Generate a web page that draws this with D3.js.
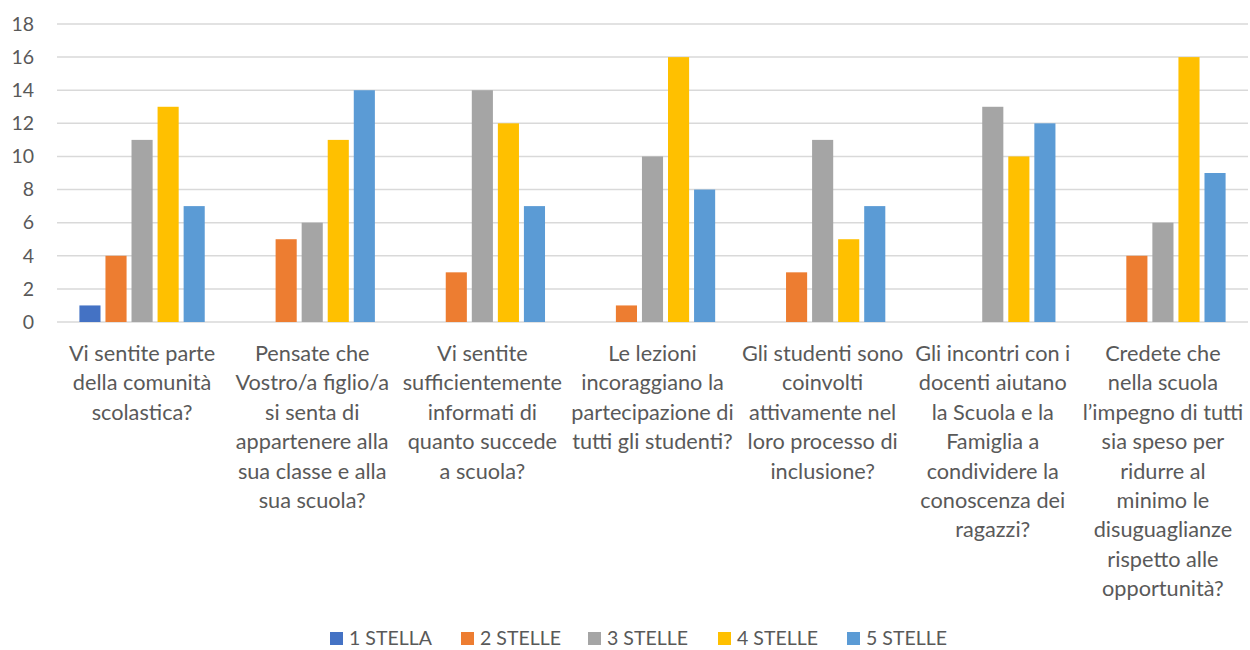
<!DOCTYPE html>
<html>
<head>
<meta charset="utf-8">
<script src="https://cdn.jsdelivr.net/npm/d3@7"></script>
<style>
  html, body { margin: 0; padding: 0; background: #fff; }
  svg { display: block; }
  text { font-family: Lato, "Open Sans", sans-serif; fill: #595959; }
</style>
</head>
<body>
<svg id="chart" width="1250" height="650"></svg>
<script>
// Survey questions (line breaks as they appear under each group)
const categories = [
  "Vi sentite parte\ndella comunità\nscolastica?",
  "Pensate che\nVostro/a figlio/a\nsi senta di\nappartenere alla\nsua classe e alla\nsua scuola?",
  "Vi sentite\nsufficientemente\ninformati di\nquanto succede\na scuola?",
  "Le lezioni\nincoraggiano la\npartecipazione di\ntutti gli studenti?",
  "Gli studenti sono\ncoinvolti\nattivamente nel\nloro processo di\ninclusione?",
  "Gli incontri con i\ndocenti aiutano\nla Scuola e la\nFamiglia a\ncondividere la\nconoscenza dei\nragazzi?",
  "Credete che\nnella scuola\nl’impegno di tutti\nsia speso per\nridurre al\nminimo le\ndisuguaglianze\nrispetto alle\nopportunità?"
];

const seriesNames = ["1 STELLA", "2 STELLE", "3 STELLE", "4 STELLE", "5 STELLE"];
const seriesColors = ["#4472C4", "#ED7D31", "#A5A5A5", "#FFC000", "#5B9BD5"];

// Number of answers per rating, one array per series (index = question)
const stars1 = [1, 0, 0, 0, 0, 0, 0];
const stars2 = [4, 5, 3, 1, 3, 0, 4];
const stars3 = [11, 6, 14, 10, 11, 13, 6];
const stars4 = [13, 11, 12, 16, 5, 10, 16];
const stars5 = [7, 14, 7, 8, 7, 12, 9];
const seriesValues = [stars1, stars2, stars3, stars4, stars5];

const yTicks = [0, 2, 4, 6, 8, 10, 12, 14, 16, 18];

const svg = d3.select("#chart");
const plot = { left: 57, right: 1248, top: 24, bottom: 322 };

const x0 = d3.scaleBand()
  .domain(d3.range(categories.length))
  .range([plot.left, plot.right])
  .padding(0);

const x1 = d3.scaleBand()
  .domain(d3.range(seriesNames.length))
  .range([0, x0.bandwidth()])
  .paddingInner(0.19)
  .paddingOuter(0.86);

const y = d3.scaleLinear()
  .domain([0, 18])
  .range([plot.bottom, plot.top]);

// Horizontal gridlines
svg.append("g")
  .selectAll("line")
  .data(yTicks)
  .join("line")
  .attr("x1", plot.left)
  .attr("x2", plot.right)
  .attr("y1", d => y(d))
  .attr("y2", d => y(d))
  .attr("stroke", "#D9D9D9")
  .attr("stroke-width", 1.5);

// Y axis labels
const yAxis = svg.append("g")
  .attr("transform", `translate(${plot.left - 23},0)`)
  .call(d3.axisLeft(y).tickValues(yTicks).tickSize(0).tickPadding(0));
yAxis.select(".domain").remove();
yAxis.selectAll("text")
  .attr("font-family", "Lato, sans-serif")
  .attr("font-size", 19.5)
  .attr("fill", "#595959");

// Bars
const groups = svg.append("g")
  .selectAll("g")
  .data(categories.map((c, i) => i))
  .join("g")
  .attr("transform", i => `translate(${x0(i)},0)`);

groups.selectAll("rect")
  .data(i => seriesValues.map((vals, s) => ({ s, v: vals[i] })))
  .join("rect")
  .attr("x", d => x1(d.s))
  .attr("width", x1.bandwidth())
  .attr("y", d => y(d.v))
  .attr("height", d => y(0) - y(d.v))
  .attr("fill", d => seriesColors[d.s]);

// Category labels, multi-line and centered under each group
const lineHeight = 29.4;
const labels = svg.append("g")
  .selectAll("text")
  .data(categories)
  .join("text")
  .attr("text-anchor", "middle")
  .attr("font-size", 21.7);
labels.each(function (d, i) {
  const t = d3.select(this);
  d.split("\n").forEach((line, k) => {
    t.append("tspan")
      .attr("x", x0(i) + x0.bandwidth() / 2)
      .attr("y", 361 + k * lineHeight)
      .text(line);
  });
});

// Legend
const legendX = [330, 461, 588, 718, 847];
const legend = svg.append("g")
  .selectAll("g")
  .data(seriesNames)
  .join("g")
  .attr("transform", (d, i) => `translate(${legendX[i]},632)`);
legend.append("rect")
  .attr("width", 13)
  .attr("height", 13)
  .attr("fill", (d, i) => seriesColors[i]);
legend.append("text")
  .attr("x", 19)
  .attr("y", 13)
  .attr("font-size", 19.5)
  .text(d => d);
</script>
</body>
</html>
